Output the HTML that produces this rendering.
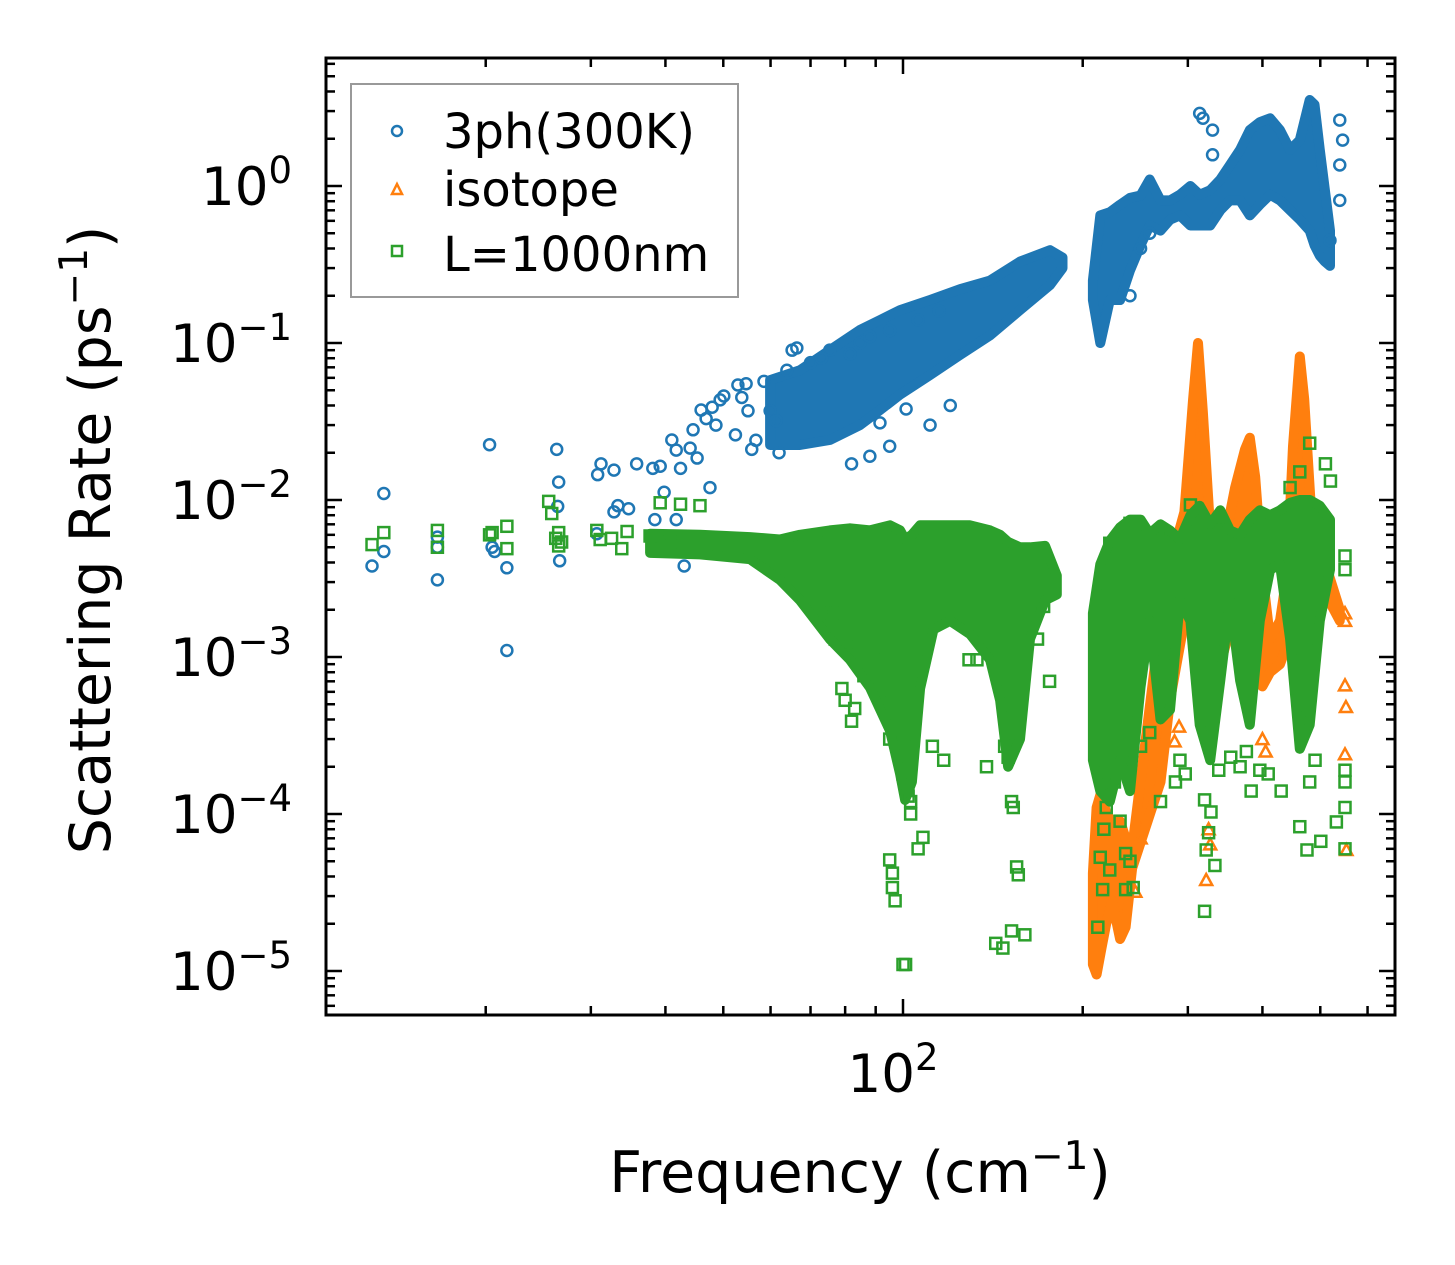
<!DOCTYPE html>
<html><head><meta charset="utf-8">
<style>
html,body{margin:0;padding:0;background:#fff;}
svg{display:block;font-family:"DejaVu Sans","Liberation Sans",sans-serif;}
</style></head>
<body>
<svg id="chart" width="1455" height="1265" viewBox="0 0 1455 1265" xmlns="http://www.w3.org/2000/svg">
<rect x="0" y="0" width="1455" height="1265" fill="#fff"/>
<g id="marks"></g>
<g id="axes"></g>
<text x="860" y="1192" font-size="57" text-anchor="middle">Frequency (cm<tspan dy="-23" font-size="39">−1</tspan><tspan dy="23">)</tspan></text>
<text transform="translate(110,540) rotate(-90)" font-size="57" text-anchor="middle">Scattering Rate (ps<tspan dy="-23" font-size="39">−1</tspan><tspan dy="23">)</tspan></text>
<g>
<rect x="351" y="84" width="387" height="213" fill="#fff" stroke="#999" stroke-width="2"/>
<circle cx="397" cy="131" r="5" fill="none" stroke="#1f77b4" stroke-width="2.5"/>
<text x="443" y="148" font-size="48">3ph(300K)</text>
<path d="M397,184 L402,194 L392,194 Z" fill="none" stroke="#ff7f0e" stroke-width="2.5"/>
<text x="443" y="206" font-size="48">isotope</text>
<rect x="392" y="246" width="10" height="10" fill="none" stroke="#2ca02c" stroke-width="2.5"/>
<text x="443" y="271" font-size="48">L=1000nm</text>
</g>
</svg>
<script>
// ---- data (frequency in cm^-1, rate in ps^-1) ----
const blueBandF  = [59.9,67.2,75.4,84.7,91.5,98.9,111,124.6,139.9,157,176.3,185];
const blueBandHi = [0.058,0.067,0.090,0.121,0.140,0.162,0.188,0.22,0.25,0.33,0.39,0.35];
const blueBandLo = [0.0224,0.0224,0.0241,0.030,0.0374,0.047,0.0625,0.084,0.112,0.162,0.234,0.30];
const blueBand2F  = [208,214,222,231,240,250,259,270,280,291,303,314,327,340,353,367,381,396,412,428,445,462,480,489,499,509,519];
const blueBand2Hi = [0.25,0.65,0.68,0.76,0.84,0.87,1.1,0.81,0.81,0.88,1.0,0.88,0.94,1.1,1.36,1.70,2.27,2.55,2.7,2.27,1.70,1.96,3.53,3.3,1.7,0.94,0.52];
const blueBand2Lo = [0.188,0.10,0.188,0.188,0.29,0.42,0.56,0.52,0.61,0.65,0.56,0.56,0.56,0.70,0.81,0.81,0.65,0.76,0.88,0.81,0.70,0.61,0.52,0.42,0.36,0.33,0.31];
const blueF = [12.9,13.5,13.5,16.6,16.6,16.6,20.3,20.5,20.7,21.7,21.7,26.3,26.5,26.6,26.4,30.7,30.8,31.2,32.8,32.8,33.3,34.7,35.8,38.1,39.2,38.4,39.8,41.7,41.0,41.7,42.4,43.0,44.0,44.5,45.2,45.9,46.8,47.5,47.9,48.6,49.4,50.1,52.4,52.9,53.7,54.6,55.0,55.8,56.7,58.5,59.9,61.3,63.9,65.2,66.4,91.5,101.2,314,318,330,330,539,545,539,539,519,259,250,240,
  75.4,81.5,84.7,88,95,106,115,82,88,95,111,120,70,73,62];
const blueR = [0.0038,0.011,0.0047,0.0031,0.0058,0.0050,0.0225,0.0050,0.0047,0.0037,0.0011,0.021,0.013,0.0041,0.0091,0.0061,0.0145,0.017,0.0155,0.0084,0.0092,0.0088,0.017,0.0159,0.0164,0.0075,0.0112,0.0075,0.0241,0.0208,0.0159,0.0038,0.0214,0.028,0.0185,0.0374,0.033,0.012,0.039,0.030,0.0434,0.046,0.026,0.054,0.045,0.055,0.037,0.021,0.024,0.057,0.037,0.032,0.067,0.090,0.093,0.031,0.038,2.9,2.7,2.27,1.58,2.63,1.96,1.36,0.81,0.45,0.50,0.40,0.20,
  0.090,0.085,0.10,0.11,0.12,0.14,0.16,0.017,0.019,0.022,0.030,0.040,0.075,0.080,0.020];

const orangeBandF  = [208,211,215,219,224,231,236,242,270,280,296,306,312,318,330,345,360,374,381,389,400,412,428,440,450,462,470,484,508,539];
const orangeBandHi = [4.2e-5,1.1e-4,1.4e-4,1.0e-4,9.0e-5,9.0e-5,7.0e-5,6.0e-5,1.7e-3,3.9e-3,8.4e-3,0.043,0.100,0.036,3.6e-3,5.3e-3,0.012,0.021,0.0249,0.014,3.4e-3,1.3e-3,1.7e-3,3.4e-3,0.022,0.082,0.044,7.0e-3,4.1e-3,2.0e-3];
const orangeBandLo = [1.1e-5,9.5e-6,1.4e-5,2.0e-5,2.8e-5,1.6e-5,1.9e-5,4.5e-5,1.6e-4,5.3e-4,1.7e-3,2.3e-3,2.3e-3,1.3e-3,5.9e-4,1.1e-3,2.0e-3,3.4e-3,3.4e-3,1.1e-3,6.5e-4,8.0e-4,9.0e-4,1.2e-3,2.0e-3,2.8e-3,2.0e-3,1.8e-3,2.6e-3,1.7e-3];
const orangeF = [550,552,550,553,550,550,325,327,322,405,400,250,245,285,290];
const orangeR = [6.6e-4,4.8e-4,2.4e-4,5.9e-5,1.9e-3,1.7e-3,8.0e-5,6.4e-5,3.8e-5,2.5e-4,3.0e-4,7.0e-5,3.2e-5,2.9e-4,3.6e-4];

const greenBandF  = [37.7,45.7,55.4,62.2,67.2,75.4,81.5,88.0,95.1,98.9,100.8,103.5,106.8,112.5,119.9,129.5,139.9,145.4,150,157,163.2,173,181];
const greenBandHi = [0.0061,0.0060,0.0058,0.0056,0.0060,0.0064,0.0066,0.0064,0.0069,0.0064,0.0056,0.0060,0.0069,0.0069,0.0069,0.0069,0.0064,0.0060,0.0054,0.0050,0.0050,0.0051,0.0033];
const greenBandLo = [0.0046,0.0045,0.0042,0.0031,0.0023,0.0013,9.6e-4,6.4e-4,3.4e-4,1.8e-4,1.23e-4,1.6e-4,6.3e-4,1.5e-3,1.7e-3,1.4e-3,9.6e-4,5.3e-4,2.0e-4,3.0e-4,1.3e-3,2.3e-3,2.5e-3];
const greenBand2F  = [208,214,222,231,240,250,259,270,280,291,303,314,327,340,353,367,381,396,412,428,445,462,480,499,519];
const greenBand2Hi = [1.9e-3,3.9e-3,5.5e-3,6.7e-3,7.5e-3,7.5e-3,6.1e-3,7.0e-3,6.4e-3,5.6e-3,8.0e-3,9.2e-3,7.0e-3,8.6e-3,6.4e-3,6.0e-3,7.5e-3,8.6e-3,8.0e-3,8.6e-3,9.6e-3,0.0100,0.0100,9.2e-3,7.5e-3];
const greenBand2Lo = [2.2e-4,1.4e-4,1.2e-4,2.2e-4,1.4e-4,6.5e-4,1.7e-3,4.0e-4,4.6e-4,2.3e-3,1.7e-3,3.7e-4,2.2e-4,7.1e-4,2.3e-3,7.1e-4,3.7e-4,1.7e-3,3.6e-3,3.9e-3,1.3e-3,2.6e-4,3.7e-4,1.7e-3,3.6e-3];
const greenF = [12.9,13.5,16.6,16.6,20.3,20.5,21.7,21.7,25.5,25.8,26.2,26.5,26.5,26.8,30.7,31.1,32.5,33.8,34.5,37.7,38.7,39.2,40.7,42.4,45.7,
  74,76,77,81,83,79,80,83,82,86,89,92,95,100,102,103,103,95,96,96,97,100,101,106,108,117,112,129,133,138,148,150,153,152,155,156,160,143,147,152,176,168,172,
  214,212,216,222,217,219,226,231,236,240,236,243,250,259,270,286,291,297,320,322,325,328,333,320,338,354,367,376,383,396,409,430,462,475,480,490,501,532,550,550,550,550,550,550,445,462,510,520,480,303,270,250,240,222,381,340];
const greenR = [0.0052,0.0062,0.0064,0.0050,0.0060,0.0062,0.0068,0.0049,0.0098,0.0082,0.0057,0.0062,0.0051,0.0054,0.0064,0.0056,0.0057,0.0049,0.0063,0.0059,0.0051,0.0096,0.0054,0.0094,0.0092,
  0.0021,0.0019,0.0013,0.0012,0.0010,6.3e-4,5.3e-4,4.7e-4,3.9e-4,7.6e-4,9.6e-4,5.3e-4,3.0e-4,1.8e-4,1.3e-4,1.2e-4,1.0e-4,5.1e-5,4.2e-5,3.4e-5,2.8e-5,1.1e-5,1.1e-5,6.0e-5,7.1e-5,2.2e-4,2.7e-4,9.6e-4,9.6e-4,2.0e-4,2.7e-4,2.3e-4,1.1e-4,1.2e-4,4.6e-5,4.1e-5,1.7e-5,1.5e-5,1.4e-5,1.8e-5,7.0e-4,0.0013,0.0021,
  5.3e-5,1.9e-5,3.3e-5,4.4e-5,8.0e-5,1.1e-4,1.6e-4,9.0e-5,5.6e-5,5.0e-5,3.3e-5,3.4e-5,2.7e-4,3.3e-4,1.2e-4,1.6e-4,2.2e-4,1.8e-4,1.23e-4,5.9e-5,7.6e-5,1.03e-4,4.7e-5,2.4e-5,1.9e-4,2.3e-4,2.0e-4,2.5e-4,1.4e-4,1.9e-4,1.8e-4,1.4e-4,8.3e-5,5.9e-5,1.6e-4,2.2e-4,6.7e-5,8.9e-5,1.1e-4,1.6e-4,1.9e-4,6.0e-5,0.0036,0.0044,0.0120,0.0151,0.0170,0.0132,0.0230,0.0093,0.0064,0.0046,0.0071,0.0053,0.0064,0.0075];

// ---- scales ----
const X0 = 326, X1 = 1395, Y0 = 58, Y1 = 1015;
function xs(f){ return 903 + 597 * (Math.log10(f) - 2); }
function ys(r){ return 186 - 157 * Math.log10(r); }

const NS = "http://www.w3.org/2000/svg";
const marks = document.getElementById('marks');
const axes = document.getElementById('axes');
function mk(tag, attrs, parent){
  const el = document.createElementNS(NS, tag);
  for (const k in attrs) el.setAttribute(k, attrs[k]);
  parent.appendChild(el);
  return el;
}

const clip = mk('clipPath', {id:'plotclip'}, document.getElementById('chart'));
mk('rect', {x:X0, y:Y0, width:X1-X0, height:Y1-Y0}, clip);
marks.setAttribute('clip-path', 'url(#plotclip)');

function band(F, Hi, Lo, color, name){
  let d = '';
  for (let i = 0; i < F.length; i++) d += (i ? 'L' : 'M') + xs(F[i]).toFixed(1) + ',' + ys(Hi[i]).toFixed(1);
  for (let i = F.length - 1; i >= 0; i--) d += 'L' + xs(F[i]).toFixed(1) + ',' + ys(Lo[i]).toFixed(1);
  d += 'Z';
  const p = mk('path', {d:d, fill:color, stroke:color, 'stroke-width':10, 'stroke-linejoin':'round'}, marks);
  
  
}
function circles(F, R, color, name){
  for (let i = 0; i < F.length; i++){
    const c = mk('circle', {cx:xs(F[i]), cy:ys(R[i]), r:5.5, fill:'none', stroke:color, 'stroke-width':2.5}, marks);
    
    
  }
}
function tris(F, R, color, name){
  for (let i = 0; i < F.length; i++){
    const x = xs(F[i]), y = ys(R[i]);
    const t = mk('path', {d:`M${x},${y-6} L${x+6},${y+5} L${x-6},${y+5} Z`, fill:'none', stroke:color, 'stroke-width':2.5}, marks);
    
    
  }
}
function squares(F, R, color, name){
  for (let i = 0; i < F.length; i++){
    const s = mk('rect', {x:xs(F[i])-5.5, y:ys(R[i])-5.5, width:11, height:11, fill:'none', stroke:color, 'stroke-width':2.5}, marks);
    
    
  }
}

band(blueBandF, blueBandHi, blueBandLo, '#1f77b4', 'series-3ph-dense-low');
band(blueBand2F, blueBand2Hi, blueBand2Lo, '#1f77b4', 'series-3ph-dense-high');
circles(blueF, blueR, '#1f77b4', 'series-3ph-point');
band(orangeBandF, orangeBandHi, orangeBandLo, '#ff7f0e', 'series-isotope-dense');
tris(orangeF, orangeR, '#ff7f0e', 'series-isotope-point');
band(greenBandF, greenBandHi, greenBandLo, '#2ca02c', 'series-l1000-dense-low');
band(greenBand2F, greenBand2Hi, greenBand2Lo, '#2ca02c', 'series-l1000-dense-high');
squares(greenF, greenR, '#2ca02c', 'series-l1000-point');

// ---- axes ----
const frame = mk('rect', {x:X0, y:Y0, width:X1-X0, height:Y1-Y0, fill:'none', stroke:'#000', 'stroke-width':3}, axes);



const yExps = [0, -1, -2, -3, -4, -5];
const yLabels = ['0', '−1', '−2', '−3', '−4', '−5'];
for (let e = -6; e <= 1; e++){
  for (let m = 1; m <= 9; m++){
    const y = ys(m * Math.pow(10, e));
    if (y < Y0 || y > Y1) continue;
    const len = m === 1 ? 16 : 9;
    const t1 = mk('line', {x1:X0, x2:X0+len, y1:y, y2:y, stroke:'#000', 'stroke-width':2.5}, axes);
    
    
    const t2 = mk('line', {x1:X1, x2:X1-len, y1:y, y2:y, stroke:'#000', 'stroke-width':2.5}, axes);
    
    
  }
}
for (let i = 0; i < yExps.length; i++){
  const y = ys(Math.pow(10, yExps[i]));
  const t = mk('text', {x:292, y:y+19, 'font-size':53, 'text-anchor':'end'}, axes);
  
  
  const a = mk('tspan', {}, t); a.textContent = '10';
  const b = mk('tspan', {dy:-22, 'font-size':37}, t); b.textContent = yLabels[i];
}
for (let e = 1; e <= 2; e++){
  for (let m = 1; m <= 9; m++){
    const x = xs(m * Math.pow(10, e));
    if (x < X0 || x > X1) continue;
    const len = (m === 1) ? 16 : 9;
    const t1 = mk('line', {x1:x, x2:x, y1:Y1, y2:Y1-len, stroke:'#000', 'stroke-width':2.5}, axes);
    
    
    const t2 = mk('line', {x1:x, x2:x, y1:Y0, y2:Y0+len, stroke:'#000', 'stroke-width':2.5}, axes);
    
    
  }
}
const xl = mk('text', {x:xs(100)-10, y:1092, 'font-size':53, 'text-anchor':'middle'}, axes);


const xa = mk('tspan', {}, xl); xa.textContent = '10';
const xb = mk('tspan', {dy:-22, 'font-size':37}, xl); xb.textContent = '2';
</script>
</body></html>
